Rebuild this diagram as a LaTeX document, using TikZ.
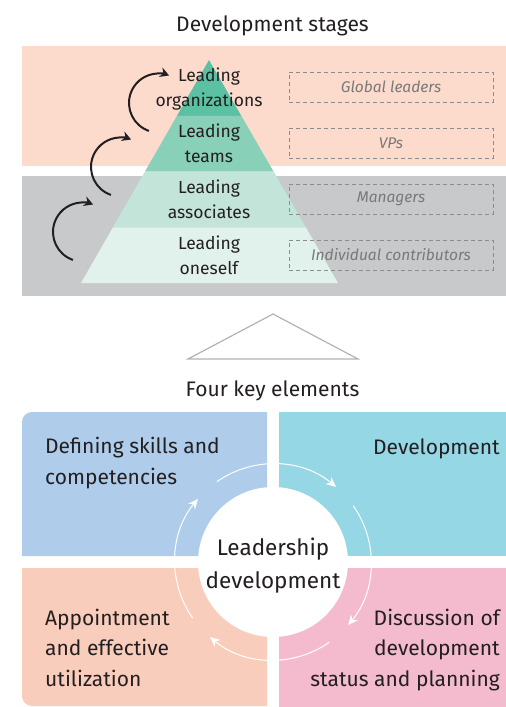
\documentclass[tikz,border=0pt]{standalone}
\usepackage{fontspec}
\setmainfont{Fira Sans}
\usepackage{tikz}
\usetikzlibrary{calc,arrows.meta,positioning}

\definecolor{bandpink}{HTML}{FDDBCC}
\definecolor{bandgray}{HTML}{C8C9CB}
\definecolor{lvlA}{HTML}{5BC1A2}
\definecolor{lvlB}{HTML}{88D0B7}
\definecolor{lvlC}{HTML}{C3E5D9}
\definecolor{lvlD}{HTML}{E1F2EC}
\definecolor{quadA}{HTML}{AFCDEA}
\definecolor{quadB}{HTML}{95D7E5}
\definecolor{quadC}{HTML}{F9CDBB}
\definecolor{quadD}{HTML}{F4BBCF}
\definecolor{inkdark}{HTML}{231F20}

\begin{document}
\begin{tikzpicture}[x=1pt,y=-1pt,
    title/.style={anchor=base,inner sep=0pt,text=inkdark,
      font=\fontsize{21}{24}\selectfont},
    lvltext/.style={align=center,anchor=base,inner sep=0pt,text=inkdark,
      font=\fontsize{17.5}{24.5}\selectfont},
    rolebox/.style={draw=gray!90,dash pattern=on 4pt off 3pt,line width=.8pt,
      minimum width=204pt,minimum height=30pt,inner sep=0pt,
      text=gray!95!black,font=\fontsize{15.5}{18}\selectfont\itshape},
    quadtext/.style={inner sep=0pt,text=inkdark,
      font=\fontsize{21}{30.5}\selectfont},
    ring/.style={white,line width=1pt,-{Stealth[length=10pt,width=9pt]}},
    climb/.style={inkdark,line width=2pt,-{Stealth[length=9pt,width=10pt]}}]
  \useasboundingbox (0,0) rectangle (506,707);

  % development stages
  \node[title] (stagestitle) at (272.5,31.5) {Development stages};
  \fill[bandpink] (22,46) rectangle (506,166);
  \fill[bandgray] (22,176) rectangle (506,296);

  \coordinate (apex) at (209,60);
  \coordinate (bl) at (81,283);
  \coordinate (br) at (338,283);
  \foreach \a/\b/\c in {0/.25/lvlA,.25/.5/lvlB,.5/.75/lvlC,.75/1/lvlD}
    \fill[\c] ($(apex)!\a!(bl)$) -- ($(apex)!\b!(bl)$) -- ($(apex)!\b!(br)$) -- ($(apex)!\a!(br)$) -- cycle;

  % base = last line
  \node[lvltext] (orgs) at (209,106) {Leading\\organizations};
  \node[lvltext] (teams) at (209,162) {Leading\\teams};
  \node[lvltext] (assoc) at (209,218) {Leading\\associates};
  \node[lvltext] (self) at (209,274) {Leading\\oneself};

  \node[rolebox] (global) at (391,87) {Global leaders};
  \node[rolebox] (vps) at (391,143) {VPs};
  \node[rolebox] (managers) at (391,199) {Managers};
  \node[rolebox] (indiv) at (391,255) {Individual contributors};

  % one step up per level
  \foreach \cx/\cy in {82.5/232,120.5/167,158.5/103}
    \draw[climb] (\cx,\cy) ++(-251:29.5) arc[start angle=-251,end angle=-69,radius=29.5];

  \draw[gray!60,line width=1.2pt,line join=miter] (273,314) -- (358,359) -- (188,359) -- cycle;
  \node[title] (elemtitle) at (272.5,396.5) {Four key elements};

  % four key elements
  \fill[quadA] (22,556) -- (22,422) arc[start angle=180,end angle=270,radius=10] -- (267,412) -- (267,556) -- cycle;
  \fill[quadB] (279,412) rectangle (506,556);
  \fill[quadC] (267,568) -- (22,568) -- (22,696) arc[start angle=180,end angle=90,radius=10] -- (267,706) -- cycle;
  \fill[quadD] (279,568) rectangle (506,707);

  \coordinate (hub) at (273,562);
  \fill[white] (hub) circle[radius=75];
  \foreach \k in {0,...,3}
    \draw[ring] (hub) ++({-215+90*\k}:98) arc[start angle={-215+90*\k},end angle={-140+90*\k},radius=98];

  \node[quadtext,align=center,anchor=base,font=\fontsize{22.5}{33}\selectfont] (lead) at (273,588.5) {Leadership\\development};
  \node[quadtext,align=left,anchor=base west] (skills) at (45,484) {Defining skills and\\competencies};
  \node[quadtext,align=right,anchor=base east] (devel) at (500,454) {Development};
  \node[quadtext,align=left,anchor=base west] (appoint) at (45,686) {Appointment\\and effective\\utilization};
  \node[quadtext,align=right,anchor=base east] (discuss) at (500,686) {Discussion of\\development\\status and planning};
\end{tikzpicture}
\end{document}
